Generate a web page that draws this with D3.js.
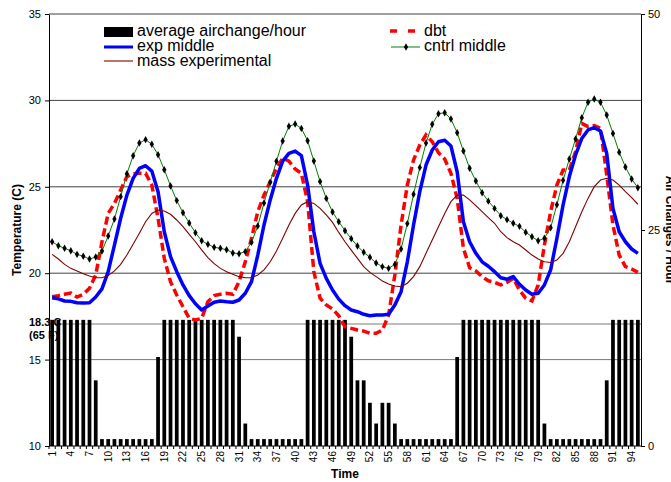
<!DOCTYPE html>
<html>
<head>
<meta charset="utf-8">
<script src="https://d3js.org/d3.v7.min.js"></script>
<style>
body { margin: 0; background: #fff; }
text { font-family: "Liberation Sans", Arial, sans-serif; }
</style>
</head>
<body>
<svg id="chart" width="671" height="482"></svg>
<script>
// hours 1..95
var hours = d3.range(1, 96);

// average airchange/hour (right axis)
var airChanges = [
  14.6, 14.6, 14.6, 14.6, 14.6, 14.6, 14.6, 7.6, 0.8, 0.8,
  0.8, 0.8, 0.8, 0.8, 0.8, 0.8, 0.8, 10.3, 14.6, 14.6,
  14.6, 14.6, 14.6, 14.6, 14.6, 14.6, 14.6, 14.6, 14.6, 14.6,
  12.65, 2.6, 0.8, 0.8, 0.8, 0.8, 0.8, 0.8, 0.8, 0.8,
  0.8, 14.6, 14.6, 14.6, 14.6, 14.6, 14.6, 14.6, 12.65, 7.6,
  7.6, 5.0, 2.6, 5.0, 5.0, 2.6, 0.8, 0.8, 0.8, 0.8,
  0.8, 0.8, 0.8, 0.8, 0.8, 10.3, 14.6, 14.6, 14.6, 14.6,
  14.6, 14.6, 14.6, 14.6, 14.6, 14.6, 14.6, 14.6, 14.6, 2.6,
  0.8, 0.8, 0.8, 0.8, 0.8, 0.8, 0.8, 0.8, 0.8, 7.6,
  14.6, 14.6, 14.6, 14.6, 14.6
];

var dbt = [
  18.64, 18.70, 18.78, 18.85, 18.62, 18.78, 19.13, 19.90, 21.82, 23.46,
  24.04, 24.81, 25.59, 25.76, 25.78, 25.78, 25.10, 23.18, 20.86, 19.51,
  18.74, 18.06, 17.39, 17.29, 17.39, 18.35, 18.70, 18.78, 18.84, 18.78,
  19.51, 20.66, 22.02, 23.56, 24.52, 25.30, 26.07, 26.65, 26.49, 26.03,
  25.78, 24.14, 20.09, 18.55, 18.16, 17.93, 17.53, 16.90, 16.81, 16.71,
  16.65, 16.52, 16.52, 16.71, 17.58, 19.90, 22.79, 25.10, 26.55, 27.42,
  28.00, 27.61, 26.97, 26.61, 25.78, 24.33, 21.44, 20.32, 20.13, 19.80,
  19.56, 19.47, 19.32, 19.47, 19.70, 19.03, 18.55, 18.39, 19.32, 21.63,
  23.56, 25.10, 25.97, 25.97, 27.03, 28.67, 28.48, 28.54, 28.38, 25.68,
  22.79, 21.05, 20.38, 20.24, 20.05
];

var expMiddle = [
  18.58, 18.52, 18.39, 18.37, 18.29, 18.28, 18.29, 18.62, 19.09, 20.09,
  21.63, 23.18, 24.52, 25.49, 26.07, 26.22, 25.91, 24.72, 22.40, 20.96,
  20.09, 19.32, 18.70, 18.23, 17.87, 18.10, 18.32, 18.39, 18.35, 18.32,
  18.45, 18.84, 19.51, 21.05, 22.79, 24.24, 25.49, 26.49, 26.93, 27.07,
  26.80, 25.10, 22.40, 20.57, 19.70, 19.03, 18.50, 18.12, 17.87, 17.77,
  17.62, 17.54, 17.58, 17.58, 17.62, 18.16, 18.93, 20.66, 22.79, 24.72,
  26.26, 27.13, 27.61, 27.69, 27.36, 25.87, 22.98, 21.82, 21.15, 20.66,
  20.40, 20.09, 19.74, 19.65, 19.80, 19.36, 19.03, 18.78, 18.84, 19.32,
  20.19, 22.02, 23.95, 25.59, 26.84, 27.80, 28.29, 28.42, 28.23, 26.93,
  23.75, 22.40, 21.82, 21.40, 21.15
];

var cntrlMiddle = [
  21.82, 21.59, 21.44, 21.30, 21.09, 20.98, 20.82, 20.94, 21.28, 22.15,
  23.14, 24.43, 25.76, 26.80, 27.53, 27.73, 27.46, 26.86, 25.99, 25.05,
  24.20, 23.50, 22.91, 22.34, 21.88, 21.67, 21.50, 21.44, 21.36, 21.17,
  21.13, 21.25, 21.79, 22.73, 24.06, 25.26, 26.48, 27.65, 28.50, 28.63,
  28.38, 27.67, 26.49, 25.30, 24.33, 23.54, 22.98, 22.46, 22.00, 21.57,
  21.21, 20.92, 20.59, 20.38, 20.28, 20.51, 21.40, 22.87, 24.57, 26.11,
  27.53, 28.62, 29.23, 29.29, 28.92, 28.13, 27.07, 26.07, 25.34, 24.66,
  24.17, 23.75, 23.33, 23.10, 22.89, 22.71, 22.37, 22.11, 21.88, 22.02,
  22.63, 23.96, 25.38, 26.61, 27.77, 29.00, 29.89, 30.08, 29.89, 29.15,
  28.09, 27.00, 26.15, 25.45, 24.95
];

var massExperimental = [
  21.09, 20.82, 20.51, 20.28, 20.13, 19.97, 19.84, 19.74, 19.74, 19.86,
  20.13, 20.51, 21.05, 21.67, 22.31, 22.98, 23.46, 23.66, 23.60, 23.41,
  23.08, 22.69, 22.25, 21.82, 21.35, 20.90, 20.55, 20.28, 20.09, 19.94,
  19.80, 19.74, 19.74, 19.90, 20.19, 20.66, 21.28, 22.02, 22.79, 23.46,
  23.95, 24.14, 24.04, 23.75, 23.37, 22.94, 22.36, 21.82, 21.34, 20.86,
  20.38, 20.05, 19.80, 19.55, 19.38, 19.26, 19.22, 19.42, 19.80, 20.38,
  21.15, 21.92, 22.69, 23.46, 24.14, 24.52, 24.52, 24.24, 23.91, 23.56,
  23.22, 22.89, 22.40, 22.06, 21.82, 21.63, 21.34, 21.05, 20.82, 20.66,
  20.62, 20.76, 21.15, 21.82, 22.69, 23.56, 24.33, 25.01, 25.39, 25.49,
  25.39, 25.10, 24.72, 24.37, 23.99
];

var tempTicks = [10, 15, 20, 25, 30, 35];
var airTicks = [0, 25, 50];
var refTemp = 17.06;   // the "18.3 C (65 F)" line
var hourTicks = hours.filter(function(d) { return (d - 1) % 3 === 0; });

var svg = d3.select("#chart"),
    width = +svg.attr("width"),
    height = +svg.attr("height"),
    margin = {top: 14, right: 30, bottom: 36, left: 49};

var x = d3.scaleBand().domain(hours)
    .range([margin.left, width - margin.right])
    .paddingInner(0.4).paddingOuter(0.2);
var yT = d3.scaleLinear().domain([10, 35]).range([height - margin.bottom, margin.top]);
var yA = d3.scaleLinear().domain([0, 50]).range([height - margin.bottom, margin.top]);
function cx(h) { return x(h) + x.bandwidth() / 2; }

// gridlines
svg.append("g").selectAll("line")
    .data(tempTicks.filter(function(t) { return t > 10; }))
    .enter().append("line")
    .attr("x1", margin.left).attr("x2", width - margin.right)
    .attr("y1", function(d) { return yT(d); })
    .attr("y2", function(d) { return yT(d); })
    .attr("stroke", function(d) { return d >= 20 ? "#404040" : "#7a7a7a"; })
    .attr("stroke-width", 1);
svg.append("line")
    .attr("x1", margin.left).attr("x2", width - margin.right)
    .attr("y1", yT(refTemp)).attr("y2", yT(refTemp))
    .attr("stroke", "#7a7a7a");

// 18.3 C label sits under the bars
var ref = svg.append("g").style("font-size", "11px").style("font-weight", "bold");
ref.append("text").attr("x", 29).attr("y", yT(refTemp) + 2).text("18.3 C");
ref.append("text").attr("x", 29).attr("y", yT(refTemp) + 15).text("(65 F)");

// bars
svg.append("g").selectAll("rect")
    .data(hours)
    .enter().append("rect")
    .attr("x", function(d) { return x(d); })
    .attr("width", x.bandwidth())
    .attr("y", function(d, i) { return yA(airChanges[i]); })
    .attr("height", function(d, i) { return yA(0) - yA(airChanges[i]); })
    .attr("fill", "#000");

function series(vals) {
    return hours.map(function(h, i) { return {h: h, v: vals[i]}; });
}
var line = d3.line()
    .x(function(d) { return cx(d.h); })
    .y(function(d) { return yT(d.v); });

svg.append("path").datum(series(dbt))
    .attr("d", line).attr("fill", "none")
    .attr("stroke", "#ff0000").attr("stroke-width", 3.5)
    .attr("stroke-dasharray", "8,4");
svg.append("path").datum(series(expMiddle))
    .attr("d", line).attr("fill", "none")
    .attr("stroke", "#0000ff").attr("stroke-width", 3.5)
    .attr("stroke-linejoin", "round");
svg.append("path").datum(series(cntrlMiddle))
    .attr("d", line).attr("fill", "none")
    .attr("stroke", "#008000").attr("stroke-width", 1);
svg.append("g").selectAll("path")
    .data(series(cntrlMiddle))
    .enter().append("path")
    .attr("d", d3.symbol(d3.symbolDiamond, 16))
    .attr("transform", function(d) { return "translate(" + cx(d.h) + "," + yT(d.v) + ")"; })
    .attr("fill", "#000");
svg.append("path").datum(series(massExperimental))
    .attr("d", line).attr("fill", "none")
    .attr("stroke", "#800000").attr("stroke-width", 1.1);

// axes
var leftAxis = svg.append("g")
    .attr("transform", "translate(" + margin.left + ",0)")
    .call(d3.axisLeft(yT).tickValues(tempTicks).tickSize(4).tickSizeOuter(0));
leftAxis.selectAll("text").style("font-size", "11px").attr("x", -8);

var rightAxis = svg.append("g")
    .attr("transform", "translate(" + (width - margin.right) + ",0)")
    .call(d3.axisRight(yA).tickValues(airTicks).tickSize(4).tickSizeOuter(0));
rightAxis.selectAll("text").style("font-size", "11px").attr("x", 7);

var bottom = svg.append("g")
    .attr("transform", "translate(0," + (height - margin.bottom) + ")");
bottom.append("line")
    .attr("x1", margin.left).attr("x2", width - margin.right)
    .attr("stroke", "#000");
bottom.selectAll("line.tick")
    .data(hours)
    .enter().append("line")
    .attr("class", "tick")
    .attr("x1", function(d) { return x(d) - x.step() * 0.2; })
    .attr("x2", function(d) { return x(d) - x.step() * 0.2; })
    .attr("y1", 0).attr("y2", 3)
    .attr("stroke", "#000");
bottom.selectAll("text")
    .data(hourTicks)
    .enter().append("text")
    .attr("transform", function(d) { return "translate(" + cx(d) + ",0) rotate(-90)"; })
    .attr("x", -5).attr("dy", "0.35em")
    .style("text-anchor", "end").style("font-size", "10px")
    .text(function(d) { return d; });

// axis titles
svg.append("text")
    .attr("transform", "translate(21," + yT(22.5) + ") rotate(-90)")
    .style("text-anchor", "middle").style("font-size", "12px").style("font-weight", "bold")
    .text("Temperature (C)");
svg.append("text")
    .attr("transform", "translate(666," + yA(25) + ") rotate(90)")
    .style("text-anchor", "middle").style("font-size", "12px").style("font-weight", "bold")
    .text("Air Changes / Hour");
svg.append("text")
    .attr("x", (margin.left + width - margin.right) / 2).attr("y", 478)
    .style("text-anchor", "middle").style("font-size", "12px").style("font-weight", "bold")
    .text("Time");

// legend
var legend = svg.append("g").style("font-size", "16px");
legend.append("rect").attr("x", 104).attr("y", 27).attr("width", 29).attr("height", 10).attr("fill", "#000");
legend.append("line").attr("x1", 104).attr("x2", 133).attr("y1", 47).attr("y2", 47)
    .attr("stroke", "#0000ff").attr("stroke-width", 3);
legend.append("line").attr("x1", 104).attr("x2", 133).attr("y1", 61).attr("y2", 61)
    .attr("stroke", "#800000").attr("stroke-width", 1.1);
legend.append("text").attr("x", 137).attr("y", 36).text("average airchange/hour");
legend.append("text").attr("x", 137).attr("y", 51).text("exp middle");
legend.append("text").attr("x", 137).attr("y", 66).text("mass experimental");

legend.append("line").attr("x1", 390).attr("x2", 415).attr("y1", 31).attr("y2", 31)
    .attr("stroke", "#ff0000").attr("stroke-width", 3.5).attr("stroke-dasharray", "7,11");
legend.append("line").attr("x1", 391).attr("x2", 420).attr("y1", 47).attr("y2", 47)
    .attr("stroke", "#008000").attr("stroke-width", 1);
legend.append("path").attr("d", d3.symbol(d3.symbolDiamond, 16))
    .attr("transform", "translate(406,47)").attr("fill", "#000");
legend.append("text").attr("x", 424).attr("y", 36).text("dbt");
legend.append("text").attr("x", 424).attr("y", 51).text("cntrl middle");
</script>
</body>
</html>
